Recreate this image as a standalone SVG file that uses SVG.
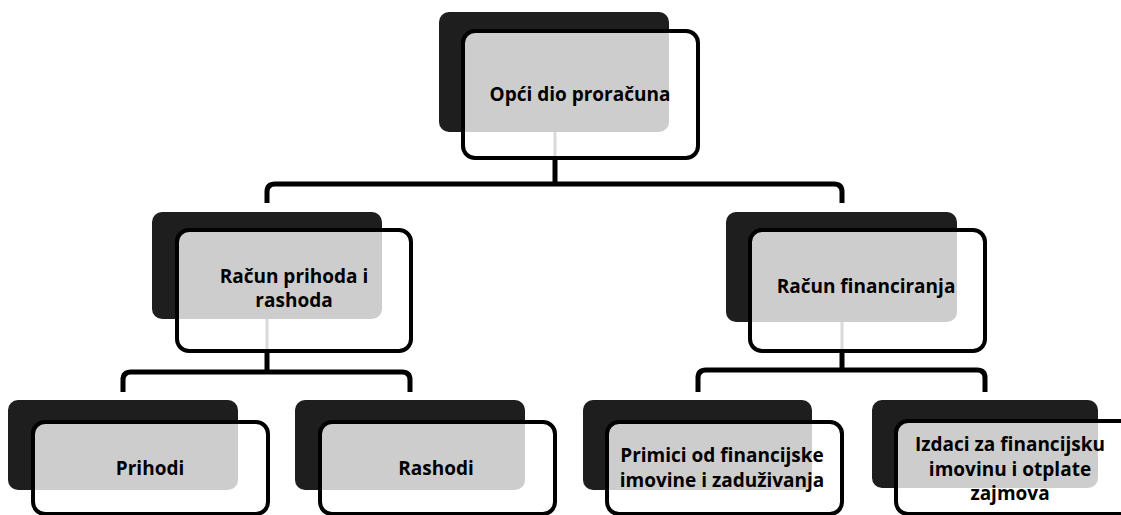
<svg xmlns="http://www.w3.org/2000/svg" width="1121" height="515" viewBox="0 0 1121 515">
  <style>
    .back { fill: #1e1e1e; }
    .front { fill: #ffffff; fill-opacity: 0.78; stroke: #000000; stroke-width: 4; }
    .conn { fill: none; stroke: #000000; stroke-width: 5; stroke-linejoin: round; }
    .faint { fill: none; stroke: #555555; stroke-width: 3; }
    .lbl { font-family: "Open Sans", "Liberation Sans", sans-serif; font-weight: 700; font-size: 19px; fill: #000000; text-anchor: middle; }
  </style>
  <rect width="1121" height="515" fill="#ffffff"/>
  <g id="connectors">
    <path class="faint" d="M555,132 V156"/>
    <path class="faint" d="M267,319 V349"/>
    <path class="faint" d="M842,322 V349"/>
    <path class="conn" d="M555,158 V184"/>
    <path class="conn" d="M267,203 V192 Q267,184 275,184 H834 Q842,184 842,192 V203"/>
    <path class="conn" d="M267,351 V372"/>
    <path class="conn" d="M123,392 V380 Q123,372 131,372 H402 Q410,372 410,380 V392"/>
    <path class="conn" d="M842,351 V370"/>
    <path class="conn" d="M698,392 V378 Q698,370 706,370 H977 Q985,370 985,378 V392"/>
  </g>
  <g id="node-opci">
    <rect class="back" x="439" y="12" width="230" height="120" rx="10"/>
    <rect class="front" x="463" y="31" width="235" height="127" rx="12"/>
    <text class="lbl" x="580" y="101">Opći dio proračuna</text>
  </g>
  <g id="node-racun-prihoda">
    <rect class="back" x="152" y="212" width="230" height="107" rx="10"/>
    <rect class="front" x="177" y="230" width="234" height="121" rx="12"/>
    <text class="lbl" x="294" y="283">Račun prihoda i</text>
    <text class="lbl" x="294" y="307">rashoda</text>
  </g>
  <g id="node-racun-financiranja">
    <rect class="back" x="726" y="212" width="231" height="110" rx="10"/>
    <rect class="front" x="750" y="230" width="235" height="121" rx="12"/>
    <text class="lbl" x="866" y="293">Račun financiranja</text>
  </g>
  <g id="node-prihodi">
    <rect class="back" x="8" y="400" width="230" height="90" rx="10"/>
    <rect class="front" x="33" y="422" width="235" height="92" rx="12"/>
    <text class="lbl" x="150" y="475">Prihodi</text>
  </g>
  <g id="node-rashodi">
    <rect class="back" x="295" y="400" width="230" height="90" rx="10"/>
    <rect class="front" x="320" y="422" width="235" height="92" rx="12"/>
    <text class="lbl" x="436" y="475">Rashodi</text>
  </g>
  <g id="node-primici">
    <rect class="back" x="583" y="400" width="229" height="90" rx="10"/>
    <rect class="front" x="607" y="422" width="235" height="92" rx="12"/>
    <text class="lbl" x="722" y="462">Primici od financijske</text>
    <text class="lbl" x="722" y="487">imovine i zaduživanja</text>
  </g>
  <g id="node-izdaci">
    <rect class="back" x="872" y="400" width="226" height="88" rx="10"/>
    <rect class="front" x="896" y="421" width="240" height="93" rx="12"/>
    <text class="lbl" x="1010" y="451">Izdaci za financijsku</text>
    <text class="lbl" x="1010" y="476">imovinu i otplate</text>
    <text class="lbl" x="1010" y="500">zajmova</text>
  </g>
</svg>
